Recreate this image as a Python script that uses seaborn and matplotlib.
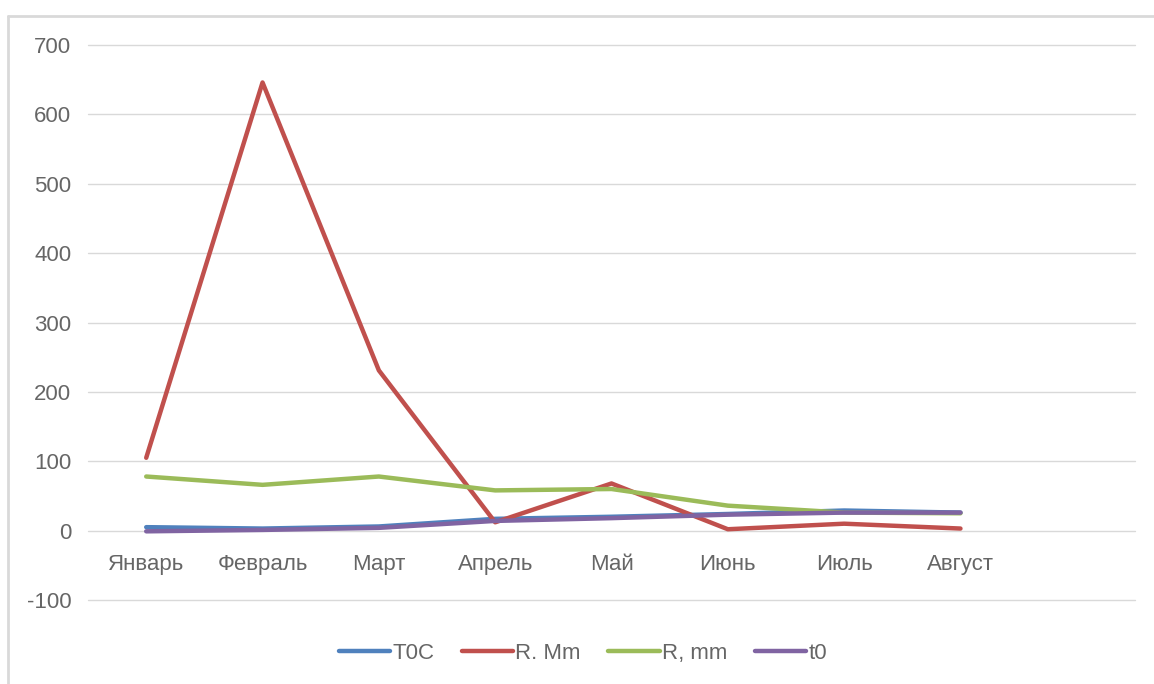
import pandas as pd
import matplotlib.pyplot as plt
from matplotlib.lines import Line2D
import seaborn as sns

# data
months = ['Январь', 'Февраль', 'Март', 'Апрель', 'Май', 'Июнь', 'Июль', 'Август']
t0c = [5, 3, 6, 17, 20, 24, 29, 26]
r_mm_big = [105, 646, 231, 12, 68, 2, 10, 3]
r_mm = [78, 66, 78, 58, 60, 36, 26, 25]
t0 = [-1, 1, 4, 14, 18, 23, 26, 26]
series_names = ['T0C', 'R. Mm', 'R, mm', 't0']
colors = ['#4F81BD', '#C0504D', '#9BBB59', '#8064A2']

frames = []
for name, vals in zip(series_names, [t0c, r_mm_big, r_mm, t0]):
    frames.append(pd.DataFrame({'Month': months, 'Value': vals, 'Series': name}))
df = pd.concat(frames, ignore_index=True)

sns.set_style('white')
plt.rcParams['font.family'] = ['Liberation Sans', 'DejaVu Sans']
plt.rcParams['axes.unicode_minus'] = False

fig = plt.figure(figsize=(11.54, 6.84), dpi=100)
ax = fig.add_axes([0.0763, 0.1228, 0.9072, 0.8114])

sns.lineplot(data=df, x='Month', y='Value', hue='Series', hue_order=series_names,
             palette=colors, sort=False, linewidth=3.2, ax=ax)

ax.set_xlim(-0.5, 8.5)
ax.set_ylim(-100, 700)
ax.set_yticks(range(-100, 701, 100))
ax.grid(axis='y', color='#d9d9d9', linewidth=1)
for gl in ax.get_ygridlines():
    gl.set_clip_on(False)
ax.set_axisbelow(True)
for s in ['left', 'right', 'top']:
    ax.spines[s].set_visible(False)
ax.spines['bottom'].set_position(('data', 0))
ax.spines['bottom'].set_visible(False)
ax.tick_params(axis='both', length=0, labelsize=16, labelcolor='#666666')
ax.tick_params(axis='x', pad=17)
ax.tick_params(axis='y', pad=12)
ax.set_xlabel('')
ax.set_ylabel('')

handles, labels = ax.get_legend_handles_labels()
ax.get_legend().remove()
fig.legend(handles, labels, loc='center', bbox_to_anchor=(0.505, 0.045), ncol=4,
           frameon=False, fontsize=16, labelcolor='#666666', handlelength=2.3,
           handletextpad=0.1, columnspacing=1.25)

# chart area border (only left and top edges visible in the screenshot)
fig.lines.append(Line2D([8 / 1154, 8 / 1154], [0, 1 - 16 / 684], transform=fig.transFigure,
                        color='#d9d9d9', linewidth=2))
fig.lines.append(Line2D([8 / 1154, 1], [1 - 16 / 684, 1 - 16 / 684], transform=fig.transFigure,
                        color='#d9d9d9', linewidth=2))

fig.savefig('out.png', dpi=100)
